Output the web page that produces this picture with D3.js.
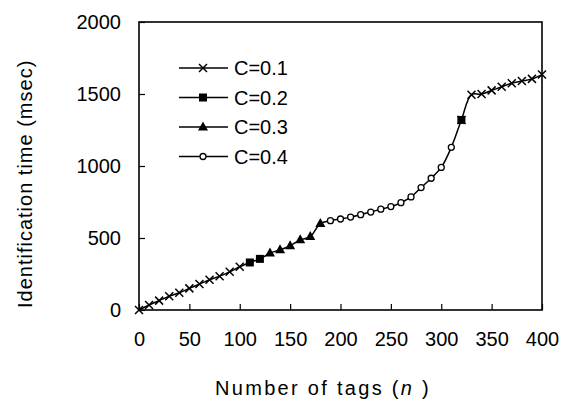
<!DOCTYPE html>
<html>
<head>
<meta charset="utf-8">
<script src="https://cdn.jsdelivr.net/npm/d3@7"></script>
<style>
  body { margin: 0; background: #fff; }
  text { font-family: "Liberation Sans", Arial, sans-serif; fill: #000; }
</style>
</head>
<body>
<div id="chart"></div>
<script>
// data
var xTicks = [0, 50, 100, 150, 200, 250, 300, 350, 400];
var yTicks = [0, 500, 1000, 1500, 2000];

var nC1 = [0, 10, 20, 30, 40, 50, 60, 70, 80, 90, 100, 320, 330, 340, 350, 360, 370, 380, 390, 400];
var tC1 = [0, 35, 65, 95, 120, 150, 180, 210, 235, 265, 300, 1320, 1495, 1500, 1525, 1550, 1575, 1590, 1605, 1635];
var nC2 = [110, 120, 320];
var tC2 = [330, 355, 1320];
var nC3 = [130, 140, 150, 160, 170, 180];
var tC3 = [395, 418, 446, 487, 510, 600];
var nC4 = [190, 200, 210, 220, 230, 240, 250, 260, 270, 280, 290, 300, 310];
var tC4 = [620, 632, 645, 662, 680, 700, 718, 745, 785, 850, 915, 990, 1130];

var labels = ["C=0.1", "C=0.2", "C=0.3", "C=0.4"];
var symbols = ["cross", "square", "triangle", "circle"];

var width = 561, height = 405;
var margin = {top: 22, right: 19, bottom: 95, left: 139};
var innerWidth = width - margin.left - margin.right;
var innerHeight = height - margin.top - margin.bottom;

var svg = d3.select("#chart").append("svg")
    .attr("width", width)
    .attr("height", height);

var x = d3.scaleLinear().domain([0, 400]).range([0, innerWidth]);
var y = d3.scaleLinear().domain([0, 2000]).range([innerHeight, 0]);

var g = svg.append("g")
    .attr("transform", "translate(" + margin.left + "," + margin.top + ")");

// axes with ticks pointing inward
var xAxis = g.append("g")
    .attr("transform", "translate(0," + innerHeight + ")")
    .call(d3.axisBottom(x).tickValues(xTicks).tickFormat(d3.format("d"))
      .tickSizeInner(-6).tickSizeOuter(0).tickPadding(22));
var yAxis = g.append("g")
    .call(d3.axisLeft(y).tickValues(yTicks).tickFormat(d3.format("d"))
      .tickSizeInner(-6).tickSizeOuter(0).tickPadding(18));

[xAxis, yAxis].forEach(function(a) {
  a.select(".domain").remove();
  a.selectAll("line").attr("stroke", "#000").attr("stroke-width", 1.2);
  a.selectAll("text").style("font-size", "20px").style("font-family", "Liberation Sans, Arial, sans-serif");
});

// frame
g.append("rect")
    .attr("width", innerWidth)
    .attr("height", innerHeight)
    .attr("fill", "none")
    .attr("stroke", "#000")
    .attr("stroke-width", 1.6);

// one smooth line through all points
var all = [];
[[nC1, tC1], [nC2, tC2], [nC3, tC3], [nC4, tC4]].forEach(function(s) {
  s[0].forEach(function(n, i) { all.push({n: n, t: s[1][i]}); });
});
all.sort(function(a, b) { return a.n - b.n; });
all = all.filter(function(d, i) { return i == 0 || d.n != all[i - 1].n; });

var line = d3.line()
    .x(function(d) { return x(d.n); })
    .y(function(d) { return y(d.t); })
    .curve(d3.curveCatmullRom);

g.append("path")
    .datum(all)
    .attr("fill", "none")
    .attr("stroke", "#000")
    .attr("stroke-width", 1.5)
    .attr("d", line);

function marker(sel, type, cx, cy) {
  if (type == "cross") {
    sel.append("path")
      .attr("d", "M" + (cx - 4) + "," + (cy - 4) + "L" + (cx + 4) + "," + (cy + 4) +
                 "M" + (cx - 4) + "," + (cy + 4) + "L" + (cx + 4) + "," + (cy - 4))
      .attr("stroke", "#000").attr("stroke-width", 1.5);
  } else if (type == "square") {
    sel.append("rect")
      .attr("x", cx - 4).attr("y", cy - 4).attr("width", 8).attr("height", 8)
      .attr("fill", "#000");
  } else if (type == "triangle") {
    sel.append("path")
      .attr("d", "M" + cx + "," + (cy - 5.5) + "L" + (cx + 5) + "," + (cy + 3.5) + "L" + (cx - 5) + "," + (cy + 3.5) + "Z")
      .attr("fill", "#000");
  } else {
    sel.append("circle")
      .attr("cx", cx).attr("cy", cy).attr("r", 3)
      .attr("fill", "#fff").attr("stroke", "#000").attr("stroke-width", 1.3);
  }
}

// markers, squares drawn before crosses so the cross at 320 sits on top
var order = [[nC2, tC2, "square"], [nC3, tC3, "triangle"], [nC4, tC4, "circle"], [nC1, tC1, "cross"]];
var marks = g.append("g").attr("class", "marks");
order.forEach(function(s) {
  s[0].forEach(function(n, i) { marker(marks, s[2], x(n), y(s[1][i])); });
});

// legend
var legend = svg.append("g").attr("class", "legend");
labels.forEach(function(lab, i) {
  var ly = 68 + i * 29.5;
  legend.append("line")
    .attr("x1", 179).attr("x2", 228).attr("y1", ly).attr("y2", ly)
    .attr("stroke", "#000").attr("stroke-width", 1.5);
  marker(legend, symbols[i], 203, ly);
  legend.append("text")
    .attr("x", 234).attr("y", ly + 7)
    .style("font-size", "20px")
    .text(lab);
});

// axis titles
var xt = svg.append("text")
    .attr("x", 215).attr("y", 395)
    .style("font-size", "20px")
    .style("letter-spacing", "2.3px");
xt.append("tspan").text("Number of tags (");
xt.append("tspan").style("font-style", "italic").text("n");
xt.append("tspan").text(" )");

svg.append("text")
    .attr("transform", "translate(32,308) rotate(-90)")
    .style("font-size", "20px")
    .style("letter-spacing", "1px")
    .text("Identification time (msec)");
</script>
</body>
</html>
